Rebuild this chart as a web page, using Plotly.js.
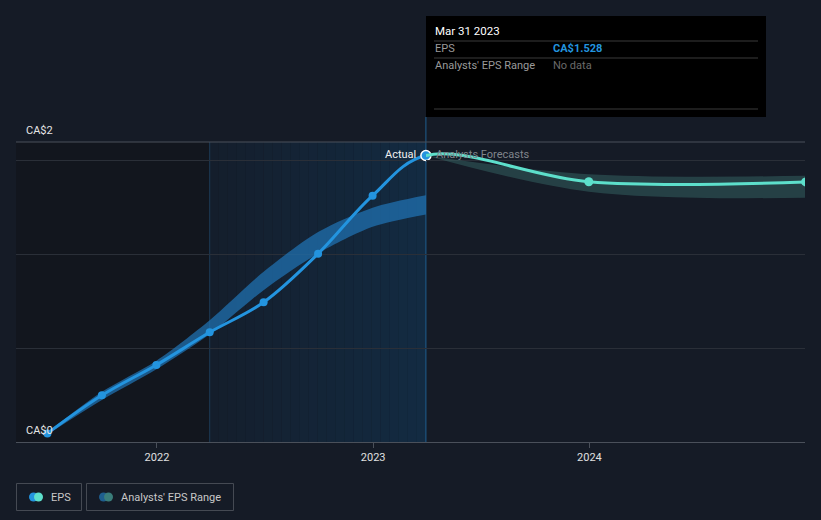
<!DOCTYPE html>
<html>
<head>
<meta charset="utf-8">
<script src="https://cdn.plot.ly/plotly-3.0.1.min.js"></script>
<style>
  html, body { margin: 0; padding: 0; background: #151b26; }
  #chart { width: 821px; height: 520px; }
</style>
</head>
<body>
<div id="chart"></div>
<script>
// ---- data ----
const epsDates = ['2021-06-30','2021-09-30','2021-12-31','2022-03-31','2022-06-30','2022-09-30','2022-12-31','2023-03-31'];
const epsValues = [0.046, 0.249, 0.411, 0.585, 0.745, 1.004, 1.314, 1.528];
const pastRangeLow  = [0.040, 0.224, 0.388, 0.575, 0.810, 1.006, 1.148, 1.214];
const pastRangeHigh = [0.052, 0.268, 0.434, 0.650, 0.908, 1.120, 1.250, 1.316];

const forecastDates = ['2023-03-31','2023-12-31','2024-12-31'];
const forecastValues = [1.528, 1.388, 1.387];
const forecastLow  = [1.528, 1.335, 1.303];
const forecastHigh = [1.528, 1.428, 1.420];

const xTickVals = ['2022-01-01','2023-01-01','2024-01-01'];
const xTickText = ['2022','2023','2024'];
const yGridVals = [0, 0.5, 1, 1.5];
const yLabels = ['CA$0', 'CA$2'];

const xStart = '2021-05-08', xEnd = '2024-12-30';
const highlightStart = '2022-03-31';
const highlightEnd = '2023-03-31';
const tooltipDate = 'Mar 31 2023';
const tooltipEps = 'CA$1.528';

// full EPS path (actual + forecast) so the curve is continuous across "today"
const allDates = epsDates.concat(forecastDates.slice(1));
const allValues = epsValues.concat(forecastValues.slice(1));

// ---- geometry helpers (pixel -> paper) ----
const W = 821, H = 520;
const M = {l: 16, r: 16, t: 142, b: 78};
const pw = W - M.l - M.r, ph = H - M.t - M.b;
const px = x => (x - M.l) / pw;
const py = y => (H - M.b - y) / ph;
const ms = d => new Date(d).getTime();
const split = (ms(highlightEnd) - ms(xStart)) / (ms(xEnd) - ms(xStart));

const font = 'Roboto, "Open Sans", sans-serif';
const SM = 1;

const traces = [
  // past analyst range band (left subplot)
  {x: epsDates, y: pastRangeLow, xaxis: 'x', yaxis: 'y', mode: 'lines', line: {width: 0, shape: 'spline', smoothing: 0.8, color: 'rgba(0,0,0,0)'}, hoverinfo: 'skip', showlegend: false},
  {x: epsDates, y: pastRangeHigh, xaxis: 'x', yaxis: 'y', mode: 'lines', line: {width: 0, shape: 'spline', smoothing: 0.8, color: 'rgba(0,0,0,0)'}, fill: 'tonexty', fillcolor: 'rgba(32,115,180,0.72)', hoverinfo: 'skip', showlegend: false},
  // forecast range band (right subplot)
  {x: forecastDates, y: forecastLow, xaxis: 'x2', yaxis: 'y', mode: 'lines', line: {width: 0, shape: 'spline', smoothing: 1, color: 'rgba(0,0,0,0)'}, hoverinfo: 'skip', showlegend: false},
  {x: forecastDates, y: forecastHigh, xaxis: 'x2', yaxis: 'y', mode: 'lines', line: {width: 0, shape: 'spline', smoothing: 1, color: 'rgba(0,0,0,0)'}, fill: 'tonexty', fillcolor: 'rgba(58,110,108,0.45)', hoverinfo: 'skip', showlegend: false},
  // EPS line: same full path, shown in blue on the left and teal on the right
  {x: allDates, y: allValues, xaxis: 'x', yaxis: 'y', mode: 'lines', line: {color: '#2394df', width: 3, shape: 'spline', smoothing: SM}, showlegend: false},
  {x: allDates, y: allValues, xaxis: 'x2', yaxis: 'y', mode: 'lines', line: {color: '#5ddfcb', width: 3, shape: 'spline', smoothing: SM}, showlegend: false},
  {x: epsDates, y: epsValues, xaxis: 'x', yaxis: 'y', mode: 'markers', marker: {size: 8, color: '#2394df'}, showlegend: false},
  {x: forecastDates.slice(1), y: forecastValues.slice(1), xaxis: 'x2', yaxis: 'y', mode: 'markers', marker: {size: 9, color: '#5ddfcb'}, showlegend: false},
  // last actual point highlighted
  {x: [epsDates[epsDates.length-1]], y: [epsValues[epsValues.length-1]], xaxis: 'x', yaxis: 'y', mode: 'markers', cliponaxis: false, marker: {size: 10, color: '#2394df', line: {color: '#ffffff', width: 1.5}}, showlegend: false}
];

const shapes = [];
// darker left region
shapes.push({type: 'rect', xref: 'x', yref: 'paper', x0: xStart, x1: highlightStart, y0: 0, y1: 1, fillcolor: '#12161e', line: {width: 0}, layer: 'below'});
// gradient highlighted region (strips)
const nStrips = 24;
const t0 = ms(highlightStart), t1 = ms(highlightEnd);
const c0 = [20, 30, 44], c1 = [19, 43, 66];
for (let i = 0; i < nStrips; i++) {
  const a = t0 + (t1 - t0) * i / nStrips, b = t0 + (t1 - t0) * (i + 1) / nStrips;
  const f = (i + 0.5) / nStrips;
  const c = c0.map((v, k) => Math.round(v + (c1[k] - v) * f));
  shapes.push({type: 'rect', xref: 'x', yref: 'paper', x0: new Date(a).toISOString(), x1: new Date(b).toISOString(), y0: 0, y1: 1, fillcolor: `rgb(${c[0]},${c[1]},${c[2]})`, line: {width: 0}, layer: 'below'});
}
// vertical lines
shapes.push({type: 'line', xref: 'x', yref: 'paper', x0: highlightStart, x1: highlightStart, y0: 0, y1: 1, line: {color: '#1d3a56', width: 1}, layer: 'below'});
shapes.push({type: 'line', xref: 'paper', yref: 'paper', x0: split, x1: split, y0: 0, y1: py(117), line: {color: '#1f5f8f', width: 1}, layer: 'below'});
// top border line
shapes.push({type: 'line', xref: 'paper', yref: 'paper', x0: 0, x1: 1, y0: 1, y1: 1, line: {color: '#4a505a', width: 1}});
// tooltip box
shapes.push({type: 'rect', xref: 'paper', yref: 'paper', x0: px(426), x1: px(766), y0: py(117), y1: py(16), fillcolor: '#000000', line: {width: 0}});
[41, 58, 109].forEach(yy => shapes.push({type: 'line', xref: 'paper', yref: 'paper', x0: px(434), x1: px(758), y0: py(yy), y1: py(yy), line: {color: '#3a3a3a', width: 1}}));
// legend boxes
shapes.push({type: 'rect', xref: 'paper', yref: 'paper', x0: px(16.5), x1: px(81.5), y0: py(510.5), y1: py(483.5), line: {color: '#454a53', width: 1}, fillcolor: 'rgba(0,0,0,0)'});
shapes.push({type: 'rect', xref: 'paper', yref: 'paper', x0: px(86.5), x1: px(233.5), y0: py(510.5), y1: py(483.5), line: {color: '#454a53', width: 1}, fillcolor: 'rgba(0,0,0,0)'});
function dot(cx, cy, r, col) {
  return {type: 'circle', xref: 'paper', yref: 'paper', x0: px(cx - r), x1: px(cx + r), y0: py(cy + r), y1: py(cy - r), fillcolor: col, line: {width: 0}};
}
shapes.push(dot(33.5, 497, 4.5, '#2394df'));
shapes.push(dot(38.5, 497, 4.5, '#5ddfcb'));
shapes.push(dot(103.5, 497, 4.5, '#1e5e8e'));
shapes.push(dot(108.5, 497, 4.5, '#3a7d7a'));

function ann(text, x, y, opts) {
  return Object.assign({text: text, xref: 'paper', yref: 'paper', x: px(x), y: py(y), showarrow: false, xanchor: 'left', yanchor: 'middle', font: {family: font, size: 11, color: '#d8d8d8'}}, opts || {});
}
const annotations = [
  ann(yLabels[1], 24, 130, {font: {family: font, size: 11, color: '#e6e6e6'}}),
  ann(yLabels[0], 24, 430, {font: {family: font, size: 11, color: '#e6e6e6'}}),
  ann('Actual', 418, 154, {xanchor: 'right', font: {family: font, size: 11, color: '#f0f0f0'}}),
  ann('Analysts Forecasts', 434, 154, {font: {family: font, size: 11, color: '#80858c'}}),
  ann(tooltipDate, 433, 31, {font: {family: font, size: 11.5, color: '#ffffff'}}),
  ann('EPS', 433, 49, {font: {family: font, size: 11, color: '#9a9a9a'}}),
  ann('<b>' + tooltipEps + '</b>', 551, 49, {font: {family: font, size: 11, color: '#2394df'}}),
  ann("Analysts' EPS Range", 433, 66, {font: {family: font, size: 11, color: '#9a9a9a'}}),
  ann('No data', 551, 66, {font: {family: font, size: 11, color: '#6a6a6a'}}),
  ann('EPS', 49, 497, {font: {family: font, size: 11, color: '#c8c8c8'}}),
  ann("Analysts' EPS Range", 119, 497, {font: {family: font, size: 11, color: '#c8c8c8'}})
];

const xCommon = {
  type: 'date',
  ticks: 'outside', ticklen: 5, tickcolor: '#4a505a',
  showline: true, linecolor: '#4a505a', linewidth: 1,
  showgrid: false, zeroline: false,
  tickfont: {family: font, size: 11, color: '#e0e0e0'},
  tickvals: xTickVals, ticktext: xTickText,
  anchor: 'y',
  fixedrange: true
};

const layout = {
  width: W, height: H,
  margin: M,
  paper_bgcolor: '#151b26',
  plot_bgcolor: '#151b26',
  showlegend: false,
  xaxis: Object.assign({}, xCommon, {domain: [0, split], range: [xStart, highlightEnd]}),
  xaxis2: Object.assign({}, xCommon, {domain: [split, 1], range: [highlightEnd, xEnd]}),
  yaxis: {
    range: [0, 1.6],
    tickvals: yGridVals,
    showticklabels: false,
    gridcolor: '#2a2f38', gridwidth: 1,
    zeroline: false, showline: false,
    anchor: 'x',
    fixedrange: true
  },
  shapes: shapes,
  annotations: annotations,
  hovermode: false
};

Plotly.newPlot('chart', traces, layout, {displayModeBar: false, staticPlot: true});
</script>
</body>
</html>
